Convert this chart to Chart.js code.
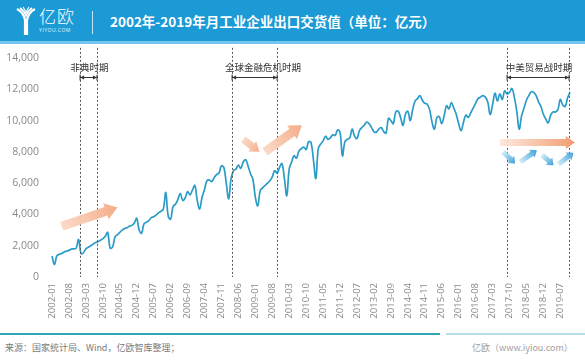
<!DOCTYPE html>
<html><head><meta charset="utf-8">
<script src="https://cdn.jsdelivr.net/npm/chart.js@4/dist/chart.umd.min.js"></script>
<style>
html,body{margin:0;padding:0;width:585px;height:360px;overflow:hidden;background:#fff;font-family:"Noto Sans CJK SC","Noto Sans",sans-serif;}
#banner{position:absolute;left:0;top:0;width:585px;height:41px;background:#1b9ad6;border-bottom:3px solid #74c7ec;}
#logoTxt{position:absolute;left:39px;top:6px;color:#fff;font-size:17px;line-height:20px;letter-spacing:1px;font-weight:300;}
#logoSub{position:absolute;left:39px;top:27px;color:#e6f4fb;font-size:5px;line-height:6px;letter-spacing:0.5px;font-family:"Open Sans",sans-serif;}
#sep{position:absolute;left:92px;top:11px;width:1px;height:23px;background:rgba(255,255,255,0.75);}
#title{position:absolute;left:110px;top:11px;color:#fff;font-weight:bold;font-size:13.5px;line-height:20px;white-space:nowrap;}
#wrap{position:absolute;left:0;top:44px;width:585px;height:286px;}
#footLine{position:absolute;left:0;top:333px;width:440px;height:2px;background:#2fa6b8;}
#footLine2{position:absolute;left:446px;top:333px;width:139px;height:2px;background:rgba(47,166,184,0.35);}
#source{position:absolute;left:5px;top:342px;color:#7a7a7a;font-size:9px;line-height:12px;white-space:nowrap;}
#site{position:absolute;left:472px;top:342px;color:#a0a0a0;font-size:9px;line-height:12px;white-space:nowrap;}
</style></head>
<body>
<div id="banner">
  <svg style="position:absolute;left:15px;top:6px" width="22" height="30" viewBox="0 0 22 30">
    <path d="M2 3 C6 5 9 9 10 14 L10 29" stroke="#fff" stroke-width="2.2" fill="none"/>
    <path d="M20 3 C16 5 13 9 12 14 L12 29" stroke="#fff" stroke-width="2.2" fill="none"/>
    <path d="M5 2 C8 4 10 7 11 10 C12 7 14 4 17 2" stroke="#fff" stroke-width="1.6" fill="none"/>
    <path d="M8 1 C9.5 3 10.5 5 11 7 C11.5 5 12.5 3 14 1" stroke="#fff" stroke-width="1.2" fill="none"/>
  </svg>
  <div id="logoTxt">亿欧</div>
  <div id="logoSub">YIYOU.COM</div>
  <div id="sep"></div>
  <div id="title">2002年-2019年月工业企业出口交货值（单位：亿元）</div>
</div>
<div id="wrap"><canvas id="c"></canvas></div>
<div id="footLine"></div><div id="footLine2"></div>
<div id="source">来源：国家统计局、Wind，亿欧智库整理；</div>
<div id="site">亿欧（www.iyiou.com）</div>
<script>
// ---- data (亿元), monthly Jan..Dec ----
const years = [2002,2003,2004,2005,2006,2007,2008,2009,2010,2011,2012,2013,2014,2015,2016,2017,2018,2019];
const v2002 = [1340, 800,1350,1450,1500,1600,1650,1700,1780,1800,1850,2400];
const v2003 = [1500,1550,1800,1900,2000,2100,2200,2250,2350,2450,2600,2850];
const v2004 = [1850,1900,2550,2700,2850,3000,3100,3150,3250,3300,3450,3750];
const v2005 = [3000,2800,3400,3500,3600,3800,3850,3950,4100,4200,4350,5400];
const v2006 = [3900,3700,4500,4650,4950,5350,4900,5050,5450,5250,5550,5850];
const v2007 = [4900,4350,5100,5600,6150,6200,6100,6350,6550,6650,7100,7000];
const v2008 = [6000,5000,6300,6800,6900,7150,6950,7350,7500,7100,6600,6250];
const v2009 = [5100,4550,5500,5700,5850,6000,6150,6400,6800,6650,7000,7250];
const v2010 = [6300,5200,6900,7350,7750,7600,8050,8200,8300,8150,8650,8600];
const v2011 = [7500,6300,8200,8500,8700,9000,8800,8900,9100,9050,9400,9250];
const v2012 = [7750,8650,8800,8900,9450,9000,8850,9350,9550,9700,9900,9800];
const v2013 = [9550,9300,9250,9450,9550,9300,9200,10150,10000,9800,10550,10600];
const v2014 = [10200,9700,10400,10600,10000,10700,11250,11400,11600,11300,11100,11050];
const v2015 = [10700,9900,9450,10200,10250,9800,10300,10950,10750,11150,10800,10400];
const v2016 = [9800,9350,9900,10350,10200,10500,10800,11100,11400,11500,11600,11500];
const v2017 = [11200,10400,11000,11750,11250,11700,11350,11900,11700,11800,12050,11500];
const v2018 = [10600,9450,10300,10800,11300,11600,11850,11800,11600,11200,10900,10400];
const v2019 = [10100,9850,10350,10550,10550,10700,11350,11000,10900,11450,11800];
const seriesByYear = [v2002,v2003,v2004,v2005,v2006,v2007,v2008,v2009,v2010,v2011,v2012,v2013,v2014,v2015,v2016,v2017,v2018,v2019];
const yTicks = [0,2000,4000,6000,8000,10000,12000,14000];

// annotation periods (month index positions) and labels
const periodNames = ['非典时期','全球金融危机时期','中美贸易战时期'];
const periodStart = [11.6, 74.4, 188];
const periodEnd   = [18.6, 93, 213.6];
const periodLabelPos = [15.5, 87.2, 201.2];
// decorative trend arrows: [tailIdx, tailVal, headIdx, headVal]
const orangeArrows = [[4,3250,27,4450],[79,8800,85.7,8000],[88,8000,103.2,9700],[185,8600,216,8600]];
const blueArrows = [[186.4,8000,191.3,7250],[193.4,7350,200.3,8100],[202.4,7800,207.2,7150],[209.2,7200,215.4,7950]];

const months = [], values = [];
seriesByYear.forEach((arr, yi) => arr.forEach((v, mi) => {
  months.push(years[yi] + '-' + String(mi + 1).padStart(2, '0'));
  values.push(v);
}));

function drawArrow(ctx, x1, y1, x2, y2, bw, hw, hl, c1, c2) {
  const L = Math.hypot(x2 - x1, y2 - y1), a = Math.atan2(y2 - y1, x2 - x1);
  ctx.save();
  ctx.translate(x1, y1); ctx.rotate(a);
  const g = ctx.createLinearGradient(0, 0, L, 0);
  g.addColorStop(0, c1); g.addColorStop(1, c2);
  ctx.fillStyle = g;
  ctx.beginPath();
  ctx.moveTo(0, -bw / 2); ctx.lineTo(L - hl, -bw / 2); ctx.lineTo(L - hl, -hw / 2);
  ctx.lineTo(L, 0); ctx.lineTo(L - hl, hw / 2); ctx.lineTo(L - hl, bw / 2); ctx.lineTo(0, bw / 2);
  ctx.closePath(); ctx.fill();
  ctx.restore();
}

const overlay = {
  id: 'overlay',
  afterDatasetsDraw(chart) {
    const { ctx, scales: { x, y } } = chart;
    ctx.save();
    ctx.strokeStyle = '#555'; ctx.lineWidth = 1; ctx.setLineDash([2, 2]);
    const top = y.getPixelForValue(14650), bot = y.getPixelForValue(0);
    periodStart.concat(periodEnd).forEach(i => {
      const px = Math.round(x.getPixelForValue(i)) + 0.5;
      ctx.beginPath(); ctx.moveTo(px, top); ctx.lineTo(px, bot); ctx.stroke();
    });
    ctx.setLineDash([]);
    const ay = Math.round(y.getPixelForValue(12780)) + 0.5;
    const ly = y.getPixelForValue(13420);
    ctx.strokeStyle = '#333'; ctx.fillStyle = '#333';
    periodNames.forEach((n, k) => {
      const xa = x.getPixelForValue(periodStart[k]), xb = x.getPixelForValue(periodEnd[k]);
      ctx.beginPath(); ctx.moveTo(xa, ay); ctx.lineTo(xb, ay); ctx.stroke();
      ctx.beginPath(); ctx.moveTo(xa, ay - 3); ctx.lineTo(xa, ay + 3); ctx.moveTo(xb, ay - 3); ctx.lineTo(xb, ay + 3); ctx.stroke();
      ctx.beginPath(); ctx.moveTo(xa, ay); ctx.lineTo(xa + 4, ay - 2); ctx.lineTo(xa + 4, ay + 2); ctx.closePath(); ctx.fill();
      ctx.beginPath(); ctx.moveTo(xb, ay); ctx.lineTo(xb - 4, ay - 2); ctx.lineTo(xb - 4, ay + 2); ctx.closePath(); ctx.fill();
      ctx.font = '9.5px "Noto Sans CJK SC"'; ctx.textAlign = 'center'; ctx.textBaseline = 'middle';
      ctx.fillText(n, x.getPixelForValue(periodLabelPos[k]), ly);
    });
    orangeArrows.forEach((a, k) => {
      const big = k === 0 || k === 2;
      drawArrow(ctx, x.getPixelForValue(a[0]), y.getPixelForValue(a[1]), x.getPixelForValue(a[2]), y.getPixelForValue(a[3]),
        k === 3 ? 7 : (big ? 9 : 7), k === 3 ? 13 : (big ? 17 : 13), k === 3 ? 9 : (big ? 12 : 9),
        k === 3 ? 'rgba(253,230,218,0.9)' : 'rgba(251,214,194,0.9)', k === 3 ? '#f29c70' : '#f5ac88');
    });
    blueArrows.forEach(a => {
      drawArrow(ctx, x.getPixelForValue(a[0]), y.getPixelForValue(a[1]), x.getPixelForValue(a[2]), y.getPixelForValue(a[3]),
        5, 10, 6, 'rgba(205,234,248,0.9)', '#3b9fd8');
    });
    ctx.restore();
  }
};

new Chart(document.getElementById('c'), {
  type: 'line',
  data: { labels: months, datasets: [{
    data: values, borderColor: '#2b9cc8', borderWidth: 1.7, pointRadius: 0, tension: 0.4, fill: false
  }] },
  options: {
    responsive: true, maintainAspectRatio: false, animation: false,
    layout: { padding: { top: 14, right: 15, bottom: 8, left: 0 } },
    plugins: { legend: { display: false }, tooltip: { enabled: false } },
    scales: {
      x: {
        offset: false,
        grid: { display: false, drawTicks: false }, border: { display: false },
        afterFit: s => { s.height = 45; s.paddingLeft = 0; s.paddingRight = 0; s.paddingTop = 0; s.paddingBottom = 0; },
        ticks: {
          autoSkip: false, minRotation: 90, maxRotation: 90, padding: 6,
          color: '#8a8a8a', font: { family: 'Open Sans', size: 9.5 },
          callback: function (v, i) { return i % 7 === 0 ? this.getLabelForValue(v) : ''; }
        }
      },
      y: {
        min: 0, max: 14000,
        grid: { display: false, drawTicks: false }, border: { display: false },
        afterFit: s => { s.width = 52; s.paddingTop = 0; s.paddingBottom = 0; s.paddingLeft = 0; s.paddingRight = 0; },
        afterBuildTicks: s => { s.ticks = yTicks.map(v => ({ value: v })); },
        ticks: {
          padding: 13, color: '#8a8a8a', font: { family: 'Open Sans', size: 10.5 },
          callback: v => v.toLocaleString('en-US')
        }
      }
    }
  },
  plugins: [overlay]
});
</script>
</body></html>
